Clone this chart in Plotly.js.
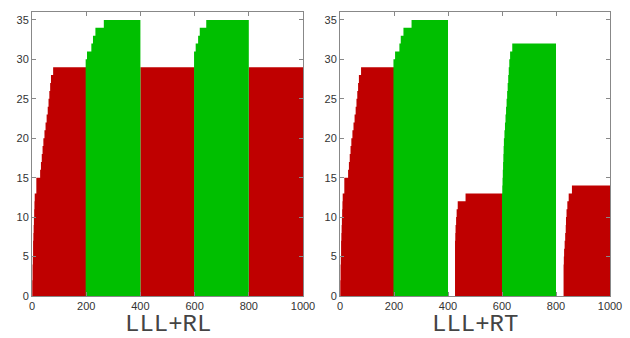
<!DOCTYPE html>
<html>
<head>
<meta charset="utf-8">
<script src="https://cdn.plot.ly/plotly-3.0.1.min.js"></script>
<style>html,body{margin:0;padding:0;background:#fff;}#chart{width:630px;height:338px;}</style>
</head>
<body>
<div id="chart"></div>
<script>
// Panel titles
const panelTitles = ["LLL+RL", "LLL+RT"];
const xTicks = [0, 200, 400, 600, 800, 1000];
const yTicks = [0, 5, 10, 15, 20, 25, 30, 35];

// LLL+RL : red series (segments separated by null)
const rlRedX = [0,1,2,3,4,5,6,7,8,9,10,16,30,33,36,39,42,46,50,54,58,61,64,67,70,78,200, null, 400,600, null, 800,1000];
const rlRedY = [0,2,4,5,7,8,9,10,11,12,13,15,16,17,18,19,20,21,22,23,24,25,26,27,28,29,29, null, 29,29, null, 29,29];
// LLL+RL : green series
const rlGreenX = [198,203,219,225,234,265,400, null, 598,604,613,619,643,800];
const rlGreenY = [30,31,32,33,34,35,35, null, 31,32,33,34,35,35];

// LLL+RT : red series
const rtRedX = [0,1,2,3,4,5,6,7,8,9,10,16,30,33,36,39,42,46,50,54,58,61,64,67,70,78,200, null, 426,427,428,430,432,436,465,600, null, 828,829,830,832,834,836,837,839,842,847,859,1000];
const rtRedY = [0,2,4,5,7,8,9,10,11,12,13,15,16,17,18,19,20,21,22,23,24,25,26,27,28,29,29, null, 7,8,9,10,11,12,13,13, null, 4,5,6,7,8,9,10,11,12,13,14,14];
// LLL+RT : green series
const rtGreenX = [198,204,220,225,235,265,400, null, 600,601,602,603,604,605,606,607,609,611,613,615,617,619,621,623,625,627,630,638,800];
const rtGreenY = [30,31,32,33,34,35,35, null, 13,14,15,16,17,18,19,20,21,22,23,24,25,26,27,28,29,30,31,32,32];

const RED = "#bf0000", GREEN = "#00bf00";

function segments(xs, ys) {
  const out = []; let cx = [], cy = [];
  for (let i = 0; i < xs.length; i++) {
    if (xs[i] === null) { if (cx.length) out.push([cx, cy]); cx = []; cy = []; }
    else { cx.push(xs[i]); cy.push(ys[i]); }
  }
  if (cx.length) out.push([cx, cy]);
  return out;
}

const traces = [];
function addSeries(xs, ys, color, xa, ya) {
  segments(xs, ys).forEach(([sx, sy]) => {
    traces.push({
      type: "scatter", mode: "lines", x: sx, y: sy,
      line: { shape: "hv", width: 0, color: color },
      fill: "tozeroy", fillcolor: color,
      xaxis: xa, yaxis: ya, showlegend: false, hoverinfo: "skip"
    });
  });
}
addSeries(rlRedX, rlRedY, RED, "x", "y");
addSeries(rlGreenX, rlGreenY, GREEN, "x", "y");
addSeries(rtRedX, rtRedY, RED, "x2", "y2");
addSeries(rtGreenX, rtGreenY, GREEN, "x2", "y2");

const W = 630, H = 338;
const yDom = [(H - 296) / H, (H - 12) / H];
const tickFont = { family: "Liberation Sans, Arial, sans-serif", size: 11, color: "#333" };
function xAxis(d0, d1, anchor) {
  return {
    domain: [d0 / W, d1 / W], range: [0, 1000], anchor: anchor,
    tickmode: "array", tickvals: xTicks, ticktext: xTicks.map(String),
    ticks: "inside", ticklen: 4, tickcolor: "#888", tickwidth: 1,
    showline: true, linecolor: "#888", linewidth: 1, mirror: "ticks",
    showgrid: false, zeroline: false, tickfont: tickFont, fixedrange: true
  };
}
function yAxis(anchor) {
  return {
    domain: yDom, range: [0, 36], anchor: anchor,
    tickmode: "array", tickvals: yTicks, ticktext: yTicks.map(String),
    ticks: "inside", ticklen: 4, tickcolor: "#888", tickwidth: 1,
    showline: true, linecolor: "#888", linewidth: 1, mirror: "ticks",
    showgrid: false, zeroline: false, tickfont: tickFont, fixedrange: true
  };
}

const titleFont = { family: "'Liberation Mono', 'Courier New', monospace", size: 24, color: "#444" };
const layout = {
  width: W, height: H,
  margin: { l: 0, r: 0, t: 0, b: 0 },
  paper_bgcolor: "#fff", plot_bgcolor: "#fff",
  showlegend: false,
  xaxis: xAxis(32, 303, "y"),
  yaxis: yAxis("x"),
  xaxis2: xAxis(340, 610, "y2"),
  yaxis2: yAxis("x2"),
  annotations: [
    { text: panelTitles[0], xref: "paper", yref: "paper", x: 167.5 / W, y: (H - 324.5) / H,
      xanchor: "center", yanchor: "middle", showarrow: false, font: titleFont },
    { text: panelTitles[1], xref: "paper", yref: "paper", x: 475 / W, y: (H - 324.5) / H,
      xanchor: "center", yanchor: "middle", showarrow: false, font: titleFont }
  ]
};

Plotly.newPlot("chart", traces, layout, { staticPlot: true, displayModeBar: false });
</script>
</body>
</html>
